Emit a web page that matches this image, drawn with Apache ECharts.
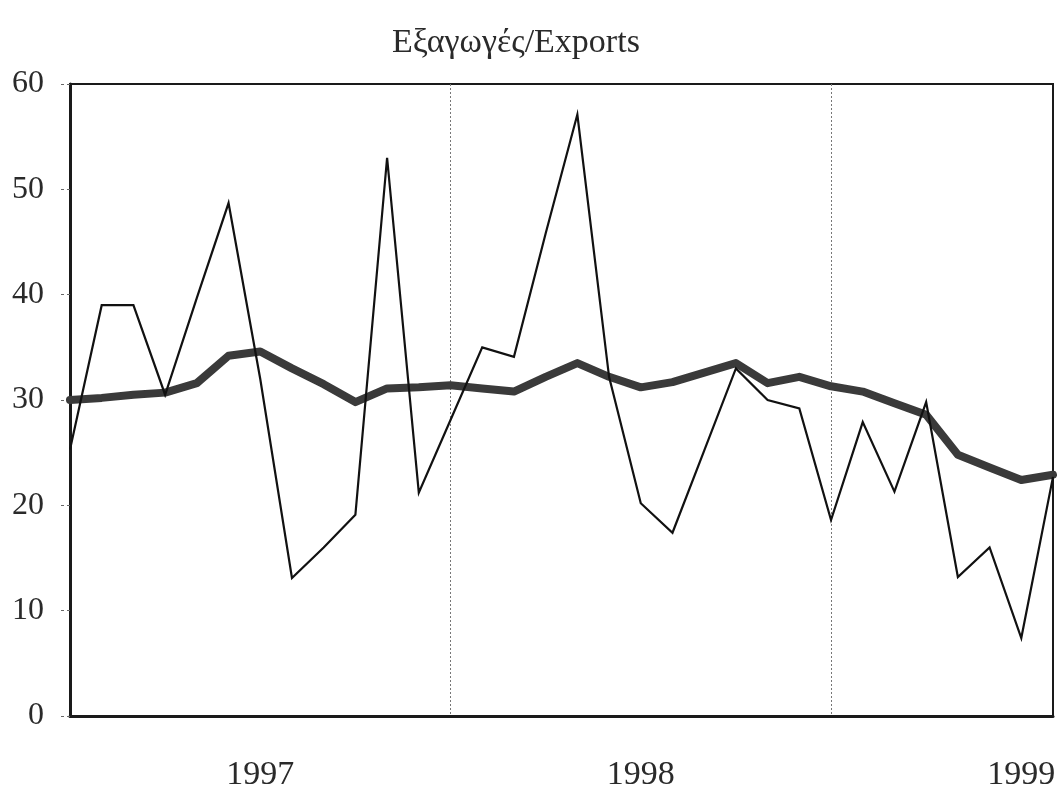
<!DOCTYPE html>
<html>
<head>
<meta charset="utf-8">
<script src="https://cdn.jsdelivr.net/npm/echarts@6/dist/echarts.min.js"></script>
<style>
  html, body { margin: 0; padding: 0; background: #ffffff; }
  #chart { width: 1063px; height: 801px; }
</style>
</head>
<body>
<div id="chart"></div>
<script>
// Monthly exports, Jan 1997 – Aug 1999
const months = [
  '1997-01','1997-02','1997-03','1997-04','1997-05','1997-06','1997-07','1997-08','1997-09','1997-10','1997-11','1997-12',
  '1998-01','1998-02','1998-03','1998-04','1998-05','1998-06','1998-07','1998-08','1998-09','1998-10','1998-11','1998-12',
  '1999-01','1999-02','1999-03','1999-04','1999-05','1999-06','1999-07','1999-08'
];
// Monthly values
const exportsMonthly = [
  25.3, 39.0, 39.0, 30.5, 39.7, 48.7, 32.0, 13.1, 16.0, 19.1, 53.0, 21.2,
  28.1, 35.0, 34.1, 45.8, 57.1, 32.2, 20.2, 17.4, 25.2, 33.0, 30.0, 29.2,
  18.6, 27.9, 21.3, 29.8, 13.2, 16.0, 7.4, 22.7
];
// Trend
const exportsTrend = [
  30.0, 30.2, 30.5, 30.7, 31.6, 34.2, 34.6, 33.0, 31.5, 29.8, 31.1, 31.2,
  31.4, 31.1, 30.8, 32.2, 33.5, 32.2, 31.2, 31.7, 32.6, 33.5, 31.6, 32.2,
  31.3, 30.8, 29.7, 28.6, 24.8, 23.6, 22.4, 22.9
];
const yTicks = [0, 10, 20, 30, 40, 50, 60];
const titleText = 'Εξαγωγές/Exports';

const serif = '"Liberation Serif", "DejaVu Serif", serif';
const chart = echarts.init(document.getElementById('chart'), null, { renderer: 'canvas' });

chart.setOption({
  backgroundColor: '#ffffff',
  animation: false,
  title: {
    text: titleText,
    left: 392,
    top: 26,
    padding: 0,
    textStyle: { fontFamily: serif, fontSize: 34, fontWeight: 'normal', color: '#2a2a2a' }
  },
  grid: {
    left: 70, right: 10, top: 84, bottom: 85,
    show: true, borderColor: '#1a1a1a', borderWidth: 2, backgroundColor: 'transparent'
  },
  xAxis: {
    type: 'category',
    data: months,
    boundaryGap: false,
    axisLine: { lineStyle: { color: '#1a1a1a', width: 3 } },
    axisTick: { show: false },
    axisLabel: {
      interval: (i) => i % 12 === 6,
      formatter: (v) => v.slice(0, 4),
      fontFamily: serif, fontSize: 34, color: '#2a2a2a', margin: 42
    },
    splitLine: {
      show: true,
      interval: (i) => i === 12 || i === 24,
      lineStyle: { color: '#777777', width: 1, type: [2, 2] }
    }
  },
  yAxis: {
    type: 'value',
    min: yTicks[0],
    max: yTicks[yTicks.length - 1],
    interval: 10,
    axisLine: { show: true, lineStyle: { color: '#1a1a1a', width: 3 } },
    axisTick: { show: true, length: 12, lineStyle: { color: '#666666', width: 1, type: [3, 3] } },
    axisLabel: { fontFamily: serif, fontSize: 32, color: '#2a2a2a', margin: 26, padding: [0, 0, 12, 0] },
    splitLine: { show: false }
  },
  series: [
    {
      name: 'trend',
      type: 'line',
      data: exportsTrend,
      symbol: 'none',
      lineStyle: { color: '#3a3a3a', width: 8, join: 'round', cap: 'round' }
    },
    {
      name: 'monthly',
      type: 'line',
      data: exportsMonthly,
      symbol: 'none',
      lineStyle: { color: '#111111', width: 2.2, join: 'miter' }
    }
  ]
});
</script>
</body>
</html>
